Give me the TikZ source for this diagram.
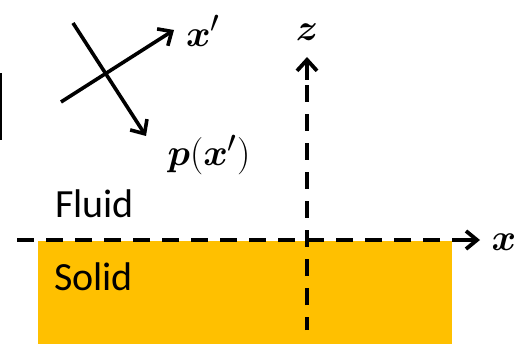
\documentclass[tikz,border=0pt]{standalone}
\usepackage{graphicx}
\usepackage{amsmath,bm}
\usepackage{fontspec}
\setmainfont{Carlito}
\usetikzlibrary{arrows.meta}
\definecolor{gold}{HTML}{FFC000}
\newcommand{\mylabelmath}[1]{\scalebox{1.5}{\fontsize{24.88}{30}\selectfont$#1$}}
\tikzset{
  axis/.style={line width=3.8pt, dash pattern=on 17pt off 12pt},
  vec/.style={line width=3.6pt, -{Straight Barb[length=11pt,width=20pt,line width=3.6pt]}},
  lbl/.style={font=\fontsize{40}{42}\selectfont, inner sep=0pt},
  mlbl/.style={inner sep=0pt}
}
\begin{document}
\begin{tikzpicture}[x=1pt,y=-1pt]
\useasboundingbox (0,0) rectangle (516,344);
% solid block
\fill[gold] (38,241) rectangle (452,344);
% left bar
\fill[black] (0,73) rectangle (2.2,140);
% axes
\coordinate (xs) at (17,240);
\coordinate (xe) at (480,240);
\coordinate (zs) at (307,330);
\coordinate (ze) at (307,57);
\draw[axis] (xs) -- (455,240);
\draw[line width=3.8pt, -{Straight Barb[length=11pt,width=18pt,line width=3.8pt]}] (455,240) -- (xe);
\draw[axis, dash phase=4pt] (zs) -- (307,80);
\draw[line width=3.8pt, -{Straight Barb[length=11pt,width=20pt,line width=3.8pt]}] (307,80) -- (ze);
\node[mlbl] (xl) at (504,242) {\mylabelmath{\bm{x}}};
\node[mlbl] (zl) at (307,32) {\mylabelmath{\bm{z}}};
% vectors
\coordinate (a1) at (61,102);
\coordinate (a2) at (174,30);
\coordinate (b1) at (73,23);
\coordinate (b2) at (146,136);
\draw[vec] (a1) -- (a2);
\draw[vec] (b1) -- (b2);
\node[mlbl] (xpl) at (203,31) {\mylabelmath{\bm{x}'}};
\node[mlbl] (pl) at (209,155) {\mylabelmath{\bm{p}(\bm{x}')}};
% texts
\node[lbl, anchor=west] (fluid) at (55,204) {Fluid};
\node[lbl, anchor=west] (solid) at (54,277) {Solid};
\end{tikzpicture}
\end{document}
